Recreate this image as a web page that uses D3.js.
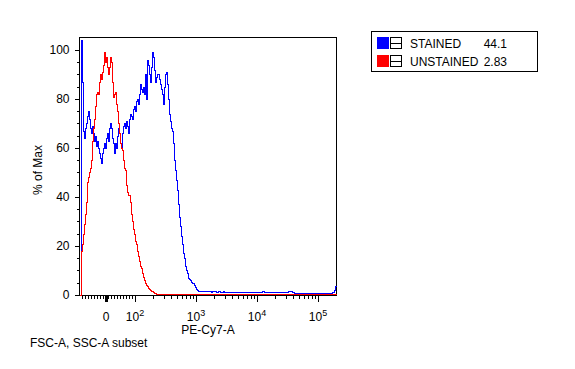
<!DOCTYPE html>
<html><head><meta charset="utf-8">
<script src="https://cdn.jsdelivr.net/npm/d3@7"></script>
<style>
body{margin:0;background:#fff;}
svg{display:block;font-family:"Liberation Sans",Arial,sans-serif;}
</style></head><body>
<svg id="chart" width="575" height="369"></svg>
<script>
// Histogram values (% of Max) per display channel (channel 0 = left edge of plot)
const stainedValues = [
0,0,104,87,67,64,68,70,73,75,
72,68,66,69,66,63,65,61,63,60,
58,56,54,58,60,62,60,64,66,63,
68,70,68,64,62,58,62,60,65,68,
66,62,60,66,69,70,68,71,69,66,
72,74,73,72,76,77,75,79,80,78,
82,86,84,83,85,82,90,80,96,94,
90,87,93,99,97,92,87,89,90,90,
88,86,84,82,78,85,90,91,86,80,
74,71,68,67,62,55,51,47,43,37,
32,28,24,21,17,15,12,10,9,7,
6.5,6,5.5,5,4.8,4,3.2,2.5,2,1.6,
1.6,1.6,1.5,1.5,1.6,1.5,1.5,1.6,1.6,1.5,
1.5,1.5,1.4,1.5,1.6,1.5,1.5,1.4,1.4,1.5,
1.5,1.4,1.4,1.4,1.5,1.4,1.4,1.4,1.4,1.4,
1.4,1.4,1.3,1.3,1.4,1.4,1.3,1.3,1.3,1.3,
1.3,1.3,1.3,1.3,1.3,1.3,1.2,1.2,1.2,1.2,
1.2,1.2,1.2,1.2,1.2,1.2,1.2,1.2,1.2,1.2,
1.3,1.3,1.4,1.6,1.6,1.4,1.3,1.2,1.2,1.2,
1.2,1.2,1.2,1.2,1.2,1.2,1.1,1.1,1.1,1.1,
1.1,1.1,1.1,1.1,1.1,1.1,1.1,1.2,1.3,1.5,
1.7,1.7,1.5,1.3,1.1,1.0,1.0,1.0,1.0,1.0,
1.0,1.0,1.0,1.0,1.0,1.0,1.0,1.0,1.0,1.0,
1.0,1.0,1.0,1.0,1.0,1.0,1.0,1.0,1.0,1.0,
1.0,1.0,1.0,1.0,1.0,1.0,1.0,1.0,1.0,1.0,
1.0,1.0,1.0,1.1,1.3,2.0,3.5
];
const unstainedValues = [
0,0,18,21,25,29,33,38,46,48,
50,52,55,63,68,72,77,82,83,82,
87,90,88,91,94,99,95,97,93,90,
93,97,95,87,81,82,83,78,75,70,
66,62,60,59,55,52,51,45,42,41,
41,38,33,30,27,25,22,21,18,16,
14,12,11,9,7.5,6,5,4,3.5,3,
2.5,2,1.8,1.5,1.2,1,0.8,0.6,0.5,0.4,
0.4,0.4,0.4,0.4,0.4,0.4,0.4,0.4,0.4,0.4,0.4,0.4,0.4,0.4,0.4,0.4,0.4,0.4,0.4,0.4,
0.4,0.4,0.4,0.4,0.4,0.4,0.4,0.4,0.4,0.4,0.4,0.4,0.4,0.4,0.4,0.4,0.4,0.4,0.4,0.4,
0.4,0.4,0.4,0.4,0.4,0.4,0.4,0.4,0.4,0.4,0.4,0.4,0.4,0.4,0.4,0.4,0.4,0.4,0.4,0.4,
0.4,0.4,0.4,0.4,0.4,0.4,0.4,0.4,0.4,0.4,0.4,0.4,0.4,0.4,0.4,0.4,0.4,0.4,0.4,0.4,
0.4,0.4,0.4,0.4,0.4,0.4,0.4,0.4,0.4,0.4,0.4,0.4,0.4,0.4,0.4,0.4,0.4,0.4,0.4,0.4,
0.4,0.4,0.4,0.4,0.4,0.4,0.4,0.4,0.4,0.4,0.4,0.4,0.4,0.4,0.4,0.4,0.4,0.4,0.4,0.4,
0.4,0.4,0.4,0.4,0.4,0.4,0.4,0.4,0.4,0.4,0.4,0.4,0.4,0.4,0.4,0.4,0.4,0.4,0.4,0.4,
0.4,0.4,0.4,0.4,0.4,0.4,0.4,0.4,0.4,0.4,0.4,0.4,0.4,0.4,0.4,0.4,0.4,0.4,0.4,0.4,
0.4,0.4,0.4,0.4,0.4,0.4,0.4,0.4,0.4,0.4,0.4,0.4,0.4,0.4,0.4,0.4,0.4
];
const seriesNames = ["STAINED", "UNSTAINED"];
const seriesStats = ["44.1", "2.83"];
const seriesColors = ["#0000ff", "#ff0000"];
const yMajorTicks = [0, 20, 40, 60, 80, 100];
const yMinorStep = 5;
const xMajorTicks = [0, 100, 1000, 10000, 100000];
const xMajorBase = ["0", "10", "10", "10", "10"];
const xMajorExp = ["", "2", "3", "4", "5"];
const xTitle = "PE-Cy7-A";
const yTitle = "% of Max";
const subsetLabel = "FSC-A, SSC-A subset";

const svg = d3.select("#chart");
const nCh = stainedValues.length;
const L = 79.5, R = 336.5, T = 37.5, B = 295.5;

const x = d3.scaleLinear().domain([0, nCh]).range([L, R]);
const y = d3.scaleLinear().domain([0, 105.3]).range([B, T]);

// biexponential-style display: linear around zero, logarithmic above 10^2
const zeroCh = 26.5, linCh = 29, decadeCh = 61, linLimit = 100;
const valueToCh = v => Math.abs(v) <= linLimit
  ? zeroCh + linCh * v / linLimit
  : zeroCh + Math.sign(v) * (linCh + decadeCh * Math.log10(Math.abs(v) / linLimit));
function biex(v) { return x(valueToCh(v)); }
biex.copy = () => biex;
biex.range = () => x.range();
biex.domain = () => [-92, 197000];

// minor ticks
const xMinor = [];
for (let n = 1; n <= 5; n++) for (let k = 1; k <= 9; k++) {
  [k * Math.pow(10, n), -k * Math.pow(10, n)].forEach(v => {
    if (xMajorTicks.includes(v)) return;
    const p = biex(v);
    if (p >= L + 1 && p <= R - 0.5) xMinor.push(v);
  });
}

// frame
svg.append("rect").attr("x", L).attr("y", T).attr("width", R - L).attr("height", B - T)
  .attr("fill", "none").attr("stroke", "#000").attr("shape-rendering", "crispEdges");

// y axis
const yMinor = d3.range(0, 101, yMinorStep).filter(v => !yMajorTicks.includes(v));
svg.append("g").attr("transform", `translate(${L},0)`)
  .call(d3.axisLeft(y).tickValues(yMinor).tickSize(3).tickFormat("").offset(0))
  .call(g => g.select(".domain").remove());
svg.append("g").attr("transform", `translate(${L},0)`)
  .call(d3.axisLeft(y).tickValues(yMajorTicks).tickSize(5).tickPadding(5).offset(0))
  .call(g => g.select(".domain").remove())
  .call(g => g.selectAll("text").attr("font-size", 12).attr("font-family", "Liberation Sans, Arial, sans-serif"));

// x axis
svg.append("g").attr("transform", `translate(0,${B})`)
  .call(d3.axisBottom(biex).tickValues(xMinor).tickSize(3).tickFormat("").offset(0))
  .call(g => g.select(".domain").remove());
const xMaj = svg.append("g").attr("transform", `translate(0,${B})`)
  .call(d3.axisBottom(biex).tickValues(xMajorTicks).tickSize(6).tickFormat("").offset(0))
  .call(g => g.select(".domain").remove());
xMaj.selectAll(".tick line").filter(d => d === 0).attr("stroke-width", 3);

svg.selectAll("g line").attr("shape-rendering", "crispEdges");

const labels = svg.append("g").selectAll("text").data(xMajorTicks).join("text")
  .attr("x", d => biex(d)).attr("y", 321).attr("text-anchor", "middle")
  .attr("font-size", 12).attr("fill", "#000");
labels.append("tspan").text((d, i) => xMajorBase[i]);
labels.append("tspan").attr("dy", -5).attr("font-size", 9).text((d, i) => xMajorExp[i]);

// histograms
const line = d3.line().x(d => x(d[0])).y(d => y(d[1])).curve(d3.curveStepAfter);
[stainedValues, unstainedValues].forEach((vals, si) => {
  const pts = vals.map((v, i) => [i, v]);
  pts.push([vals.length, vals[vals.length - 1]]);
  svg.append("path").attr("d", line(pts)).attr("fill", "none")
    .attr("stroke", seriesColors[si]).attr("stroke-width", 1)
    .attr("shape-rendering", "crispEdges");
});

// titles
svg.append("text").attr("x", 208).attr("y", 333.5).attr("text-anchor", "middle")
  .attr("font-size", 12).text(xTitle);
svg.append("text").attr("transform", "translate(42,170) rotate(-90)")
  .attr("text-anchor", "middle").attr("font-size", 12).text(yTitle);
svg.append("text").attr("x", 30).attr("y", 347).attr("font-size", 12).text(subsetLabel);

// legend
const lg = svg.append("g");
lg.append("rect").attr("x", 371.5).attr("y", 31.5).attr("width", 166).attr("height", 40)
  .attr("fill", "#fff").attr("stroke", "#000").attr("shape-rendering", "crispEdges");
const rows = lg.selectAll("g.row").data(seriesNames).join("g").attr("class", "row")
  .attr("transform", (d, i) => `translate(0,${43 + i * 18})`);
rows.append("rect").attr("x", 377).attr("y", -6).attr("width", 12).attr("height", 12)
  .attr("fill", (d, i) => seriesColors[i]).attr("shape-rendering", "crispEdges");
rows.append("rect").attr("x", 390.5).attr("y", -5.5).attr("width", 11).attr("height", 11)
  .attr("fill", "#fff").attr("stroke", "#000").attr("shape-rendering", "crispEdges");
rows.append("line").attr("x1", 390.5).attr("x2", 401.5).attr("y1", 0.5).attr("y2", 0.5)
  .attr("stroke", "#000").attr("shape-rendering", "crispEdges");
rows.append("text").attr("x", 410).attr("y", 4.5).attr("font-size", 12).text(d => d);
rows.append("text").attr("x", 507).attr("y", 4.5).attr("text-anchor", "end")
  .attr("font-size", 12).text((d, i) => seriesStats[i]);
</script>
</body></html>
